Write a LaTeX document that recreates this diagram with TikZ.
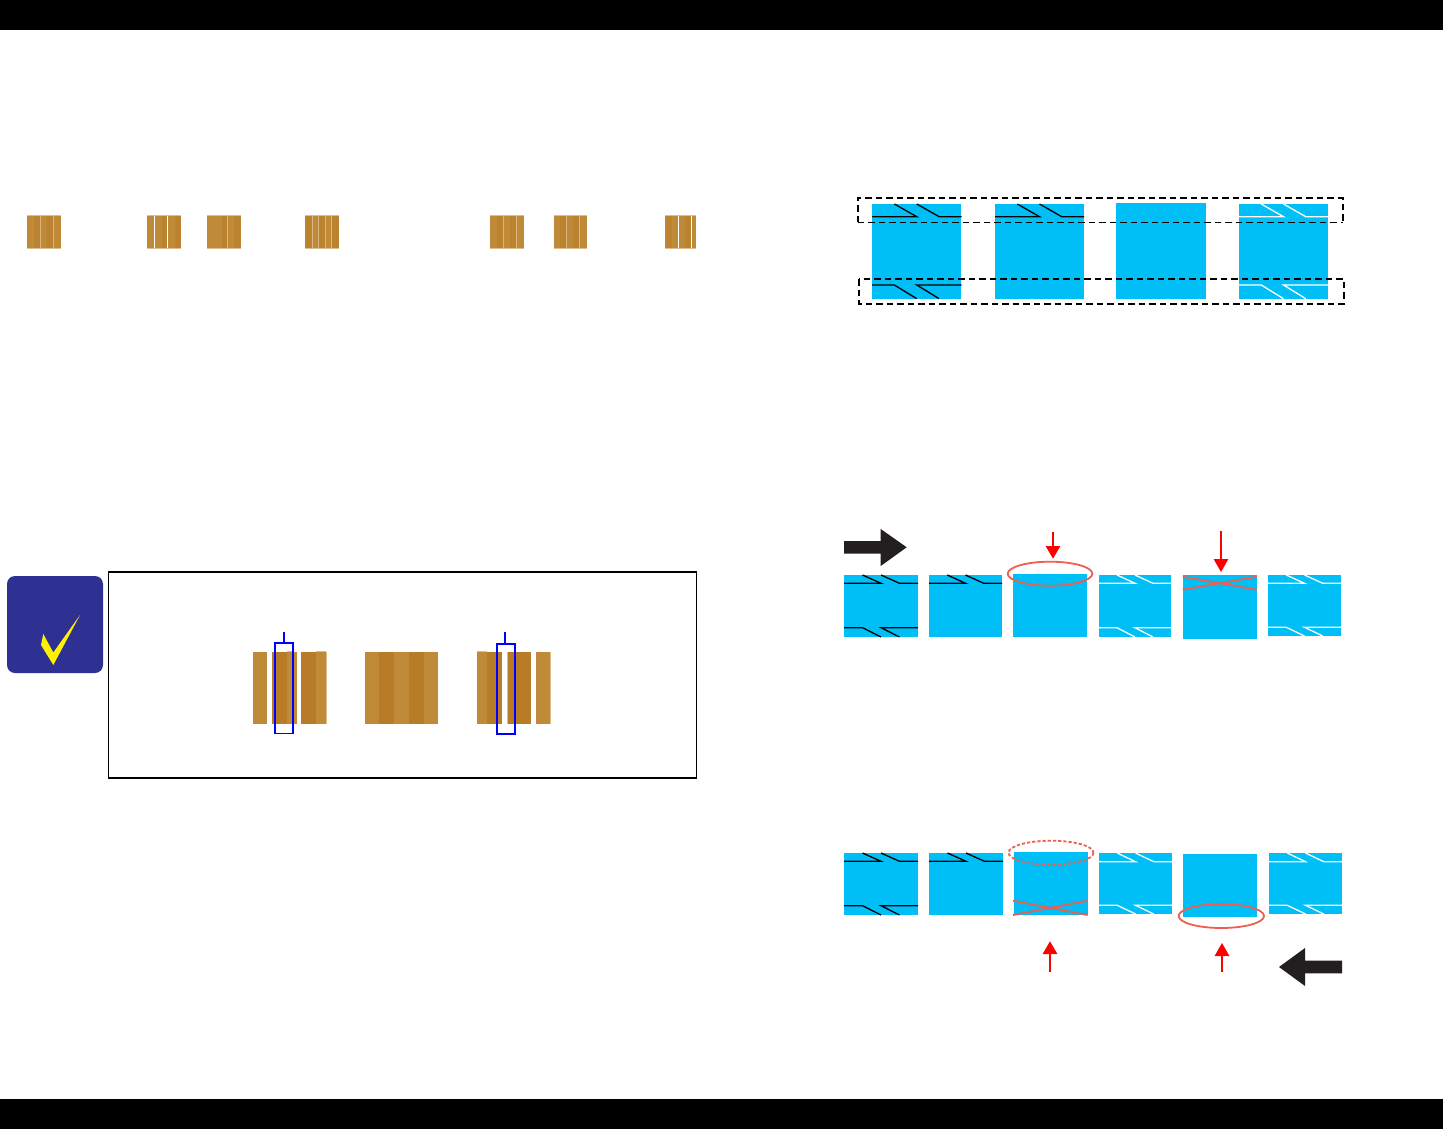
\documentclass[tikz,border=0pt]{standalone}
\definecolor{tilebase}{HTML}{C08B38}
\definecolor{tiledark}{HTML}{B87B27}
\definecolor{smalldark}{HTML}{BB8230}
\definecolor{tilepale}{HTML}{DDBE8E}
\definecolor{tileline}{HTML}{D9B67F}
\definecolor{cyanfill}{HTML}{00BEF6}
\definecolor{arrowblack}{HTML}{231F20}
\definecolor{markred}{HTML}{EE5F52}
\definecolor{crossred}{HTML}{E2625A}
\definecolor{iconblue}{HTML}{2E3192}
\tikzset{
  base/.style={fill=tilebase,draw=none},
  dark/.style={fill=tiledark,draw=none},
  sdark/.style={fill=smalldark,draw=none},
  pale/.style={fill=tilepale,draw=none},
  cyanbox/.style={fill=cyanfill,draw=none},
  zline/.style={line width=1.3pt,line join=miter,draw=#1},
  redhead/.style={fill=red,draw=none},
  redstem/.style={draw=red,line width=2pt},
  blackarrow/.style={fill=arrowblack,draw=none},
  markring/.style={draw=markred,line width=1.8pt},
  markdash/.style={draw=markred,line width=1.8pt,dash pattern=on 3.2pt off 2pt},
  crossing/.style={draw=crossred,line width=1.9pt},
  dashthick/.style={draw=black,line width=1.7pt,dash pattern=on 6.5pt off 4pt},
  dashthin/.style={draw=black,line width=1pt,dash pattern=on 6.5pt off 4pt},
  bluemark/.style={draw=blue,line width=1.7pt},
}
% small striped tile: x, width, dark offsets, pale lines, white lines
\newcommand{\smalltile}[5]{%
  \fill[base] (#1,215) rectangle ({#1+#2},249);
  \foreach \a/\b in {#3} {\fill[sdark] ({#1+\a},216) rectangle ({#1+\b},248);}
  \fill[pale] (#1,215) rectangle ({#1+#2},216);
  \fill[pale] (#1,248) rectangle ({#1+#2},249);
  \foreach \a in {#4} {\fill[tileline] ({#1+\a-.5},216) rectangle ({#1+\a+.5},248);}
  \foreach \a in {#5} {\fill[white] ({#1+\a-.5},216) rectangle ({#1+\a+.5},248);}
}
% upper z mark: x0, x1, tile top, line y, colour
\newcommand{\ztop}[5]{%
  \draw[zline=#5] (#1,#4) -- ({#1+.5*(#2-#1)},#4) -- ({#1+.25*(#2-#1)},#3);
  \draw[zline=#5] ({#1+.5*(#2-#1)},#3) -- ({#1+.75*(#2-#1)},#4) -- (#2,#4);
}
% lower z mark: x0, x1, tile bottom, line y, colour
\newcommand{\zbot}[5]{%
  \draw[zline=#5] (#1,#4) -- ({#1+.25*(#2-#1)},#4) -- ({#1+.5*(#2-#1)},#3);
  \draw[zline=#5] (#2,#4) -- ({#1+.5*(#2-#1)},#4) -- ({#1+.75*(#2-#1)},#3);
}
\newcommand{\reddown}[4]{% x, stem top, head top, tip
  \draw[redstem] (#1,#2) -- (#1,#3);
  \fill[redhead] ({#1-7.4},#3) -- ({#1+7.4},#3) -- (#1,#4) -- cycle;
}
\begin{document}
\begin{tikzpicture}[x=1pt,y=-1pt]
\useasboundingbox (0,0) rectangle (1443,1129);
\fill[white] (0,0) rectangle (1443,1129);
\fill[black] (0,0) rectangle (1443,30);
\fill[black] (0,1099) rectangle (1443,1129);

% small tiles
\smalltile{27}{34}{6.7/13.3,20/26.7}{13.3,26.3}{}
\smalltile{147}{34}{14.7/20.3,27.7/34}{}{7.3,20.3}
\smalltile{207}{34}{14.7/20.3,27.4/34}{20.3}{}
\smalltile{305}{34}{0/7,14/20,27/34}{7.3,13.3,20.3,26.7}{}
\smalltile{490}{34}{6.7/13.3,20/26.7}{13.3,26.3}{}
\smalltile{553.5}{33.5}{6.7/13,19.5/26}{13}{}
\fill[tileline] (579,216) rectangle (580,248);
\smalltile{665}{30.7}{1/6.7,20/26.7}{}{13.3,26.7}

% check icon
\fill[iconblue] (7,576) [rounded corners=8pt] rectangle (103,673);
\fill[yellow] (43.3,634) -- (53.3,652.5) -- (80,615) -- (53.3,665) -- (41,645) -- cycle;

% note frame
\draw[black,line width=1.1pt] (108.5,572) rectangle (696.5,778);

% enlarged tiles, left
\fill[base] (253,652) rectangle (267,724);
\fill[dark] (272,652) rectangle (286.7,724);
\fill[base] (286.7,652) rectangle (297,724);
\fill[dark] (301,652) rectangle (316,724);
\fill[base] (316,652) rectangle (326,724);
\fill[pale] (326,652) rectangle (327,724);
\fill[pale] (286.7,651) rectangle (293,652);
\fill[pale] (316,651) rectangle (326,652);
% enlarged tiles, middle
\fill[base] (365,652) rectangle (438,724);
\fill[dark] (379,652) rectangle (394,724);
\fill[dark] (409,652) rectangle (424,724);
% enlarged tiles, right
\fill[base] (477,652) rectangle (487,724);
\fill[dark] (487,652) rectangle (502,724);
\fill[pale] (477,651) rectangle (487,652);
\fill[pale] (507,652) rectangle (508,724);
\fill[dark] (508,652) rectangle (531,724);
\fill[base] (536,652) rectangle (551,724);
\fill[pale] (550,652) rectangle (551,724);
% blue marks
\draw[bluemark] (274.7,643) rectangle (293.3,733.5);
\draw[bluemark] (283.7,632) -- (283.7,643);
\draw[bluemark] (496.7,644) rectangle (515.3,734);
\draw[bluemark] (505,632) -- (505,644);

% top row
\fill[cyanbox] (872,204) rectangle (961,298.7);
\fill[cyanbox] (995,204) rectangle (1084,298.7);
\fill[cyanbox] (1116,203) rectangle (1206,298.7);
\fill[cyanbox] (1239,204) rectangle (1328,298.7);
\ztop{872}{961.5}{204}{216.7}{black}
\zbot{872}{961.5}{298.7}{285}{black}
\ztop{995}{1084}{204}{216.7}{black}
\ztop{1239}{1328}{204}{216.7}{white}
\zbot{1239}{1328}{298.7}{285}{white}
\draw[dashthick] (857.7,222) -- (857.7,198) -- (1342.7,198) -- (1342.7,222);
\draw[dashthin] (857.7,222.3) -- (1342.7,222.3);
\draw[dashthick] (859,279) rectangle (1344,303.7);

% middle row
\fill[blackarrow] (844,541) -- (880.7,541) -- (880.7,529) -- (906.7,547.3) -- (880.7,566) -- (880.7,553.7) -- (844,553.7) -- cycle;
\fill[cyanbox] (844,575) rectangle (918,637);
\fill[cyanbox] (929,575) rectangle (1002,637);
\fill[cyanbox] (1013,574) rectangle (1087,637.3);
\fill[cyanbox] (1099,575) rectangle (1171,637);
\fill[cyanbox] (1182.7,575.3) rectangle (1257,638.7);
\fill[cyanbox] (1268,575) rectangle (1341,636);
\ztop{844}{918}{575}{583.3}{black}
\zbot{844}{918}{637}{627.7}{black}
\ztop{929}{1002}{575}{583.3}{black}
\ztop{1099}{1171}{575}{583.3}{white}
\zbot{1099}{1171}{637}{627.7}{white}
\ztop{1268}{1341}{575}{583.3}{white}
\zbot{1268}{1341}{636}{627.3}{white}
\draw[markring] (1050,573.7) ellipse [x radius=42.3,y radius=12];
\draw[crossing] (1182.7,576.7) -- (1257,589.7);
\draw[crossing] (1182.7,589.7) -- (1257,576.7);
\reddown{1053}{532}{546}{558.7}
\reddown{1221}{531}{559}{572}

% bottom row
\fill[cyanbox] (844,853) rectangle (918,915);
\fill[cyanbox] (929,853) rectangle (1003,915);
\fill[cyanbox] (1013.7,852) rectangle (1087.7,915);
\fill[cyanbox] (1099,853) rectangle (1172,914);
\fill[cyanbox] (1183.3,853.7) rectangle (1257.3,916.7);
\fill[cyanbox] (1269,853) rectangle (1342,914);
\ztop{844}{918}{853}{861.3}{black}
\zbot{844}{918}{915}{905.7}{black}
\ztop{929}{1003}{853}{861.3}{black}
\ztop{1099}{1172}{853}{861.7}{white}
\zbot{1099}{1172}{914}{905.3}{white}
\ztop{1269}{1342}{853}{861.7}{white}
\zbot{1269}{1342}{914}{905.3}{white}
\draw[markdash] (1051,852.7) ellipse [x radius=42.5,y radius=12];
\draw[crossing] (1013,900.7) -- (1087.7,915);
\draw[crossing] (1013,915) -- (1087.7,900.7);
\draw[markring] (1221.3,916) ellipse [x radius=42.7,y radius=12];
\reddown{1050}{971.7}{954}{941.3}
\reddown{1222}{971.7}{956}{943}
\fill[blackarrow] (1342,960.7) -- (1305,960.7) -- (1305,948) -- (1279,967) -- (1305,986) -- (1305,973.3) -- (1342,973.3) -- cycle;
\end{tikzpicture}
\end{document}
